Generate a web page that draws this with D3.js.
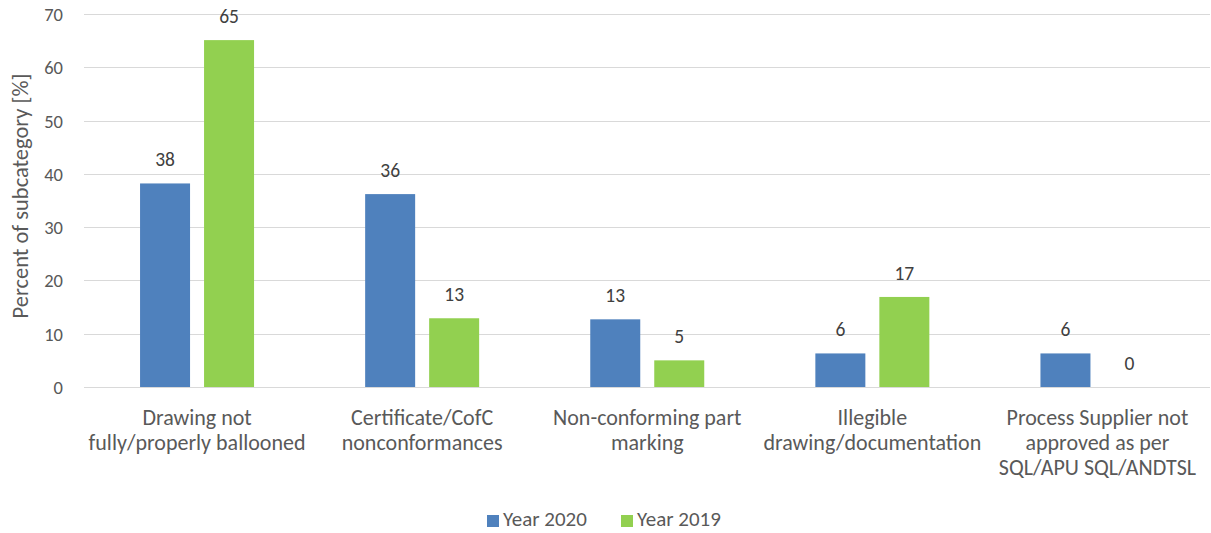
<!DOCTYPE html>
<html><head><meta charset="utf-8">
<script src="https://cdn.jsdelivr.net/npm/d3@7"></script>
<style>body{margin:0;background:#fff}svg{display:block}text{font-family:Carlito,Calibri,Lato,sans-serif}</style>
</head><body><svg id="c" width="1211" height="533"></svg>
<script>
const categories = [
  ["Drawing not","fully/properly ballooned"],
  ["Certificate/CofC","nonconformances"],
  ["Non-conforming part","marking"],
  ["Illegible","drawing/documentation"],
  ["Process Supplier not","approved as per","SQL/APU SQL/ANDTSL"]
];
const series = ["Year 2020","Year 2019"];
const year2020 = [38.2, 36.2, 12.7, 6.3, 6.3];
const year2019 = [65.1, 12.9, 5.0, 16.9, 0];
const yTicks = [0,10,20,30,40,50,60,70];
const colors = ["#4F81BD","#92D050"];

const svg = d3.select("#c");
const x = d3.scaleBand().domain(d3.range(categories.length)).range([84.5,1210]).paddingInner(0).paddingOuter(0);
const y = d3.scaleLinear().domain([0,70]).range([387,14]);
const xs = d3.scaleBand().domain([0,1]).range([0,x.bandwidth()]).paddingInner(0.21875).paddingOuter(0.868);

// grid
svg.append("g").selectAll("line").data(yTicks).join("line")
  .attr("x1",84).attr("x2",1210).attr("y1",d=>Math.round(y(d))+0.5).attr("y2",d=>Math.round(y(d))+0.5)
  .attr("stroke","#D9D9D9").attr("stroke-width",1);

const yAxis = d3.axisLeft(y).tickValues(yTicks).tickSize(0).tickPadding(0);
const ga = svg.append("g").attr("transform","translate(63,0)").call(yAxis);
ga.select(".domain").remove();
ga.selectAll("text").attr("fill","#595959").attr("font-size","18.5px").attr("font-family","Lato,sans-serif").attr("dy","0.35em");

svg.append("text").attr("transform","translate(28,196) rotate(-90)").attr("text-anchor","middle")
  .attr("fill","#595959").attr("font-size","22.5px").text("Percent of subcategory [%]");

const data = [year2020, year2019];
const g = svg.append("g");
data.forEach((vals,si)=>{
  g.selectAll(null).data(vals).join("rect")
    .attr("x",(d,i)=>x(i)+xs(si)).attr("width",xs.bandwidth())
    .attr("y",d=>y(d)).attr("height",d=>y(0)-y(d)).attr("fill",colors[si]);
  g.selectAll(null).data(vals).join("text")
    .attr("x",(d,i)=>x(i)+xs(si)+xs.bandwidth()/2).attr("y",d=>y(d)-17)
    .attr("text-anchor","middle").attr("fill","#404040").attr("font-size","19.5px")
    .text(d=>Math.round(d));
});

// category labels
const cl = svg.append("g");
categories.forEach((lines,i)=>{
  const t = cl.append("text").attr("text-anchor","middle").attr("fill","#595959").attr("font-size","22px");
  lines.forEach((s,j)=>t.append("tspan").attr("x",x(i)+x.bandwidth()/2).attr("y",425+j*25).text(s));
});

// legend
const lg = svg.append("g");
const lx = [487,621];
series.forEach((s,i)=>{
  lg.append("rect").attr("x",lx[i]).attr("y",515).attr("width",12).attr("height",12).attr("fill",colors[i]);
  lg.append("text").attr("x",lx[i]+16).attr("y",526).attr("fill","#595959").attr("font-size","21px").text(s);
});
</script></body></html>
